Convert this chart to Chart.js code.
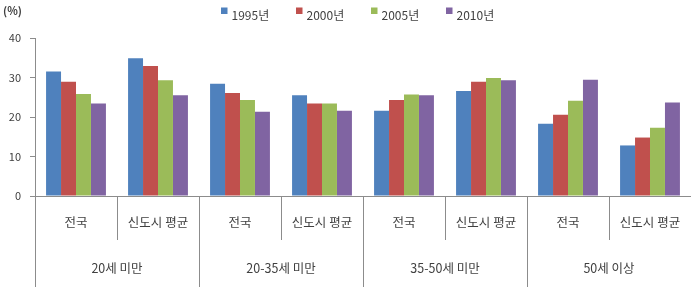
<!DOCTYPE html>
<html>
<head>
<meta charset="utf-8">
<script src="https://cdn.jsdelivr.net/npm/chart.js@4/dist/chart.umd.min.js"></script>
<style>
html,body{margin:0;padding:0;background:#fff;}
#wrap{width:691px;height:287px;position:relative;}
</style>
</head>
<body>
<div id="wrap"><canvas id="c" width="691" height="287"></canvas></div>
<script>
const groups = ['20세 미만', '20-35세 미만', '35-50세 미만', '50세 이상'];
const subs = ['전국', '신도시 평균'];
const seriesNames = ['1995년', '2000년', '2005년', '2010년'];
const v1995 = [31.5, 34.9, 28.4, 25.5, 21.6, 26.6, 18.3, 12.8];
const v2000 = [28.9, 32.9, 26.1, 23.4, 24.3, 28.9, 20.6, 14.8];
const v2005 = [25.8, 29.3, 24.3, 23.4, 25.7, 29.9, 24.1, 17.3];
const v2010 = [23.4, 25.5, 21.3, 21.6, 25.5, 29.3, 29.4, 23.7];
const yMin = 0, yMax = 40, yStep = 10;
const unitLabel = '(%)';

const colors = ['#4F81BD', '#C0504D', '#9BBB59', '#8064A2'];
const seriesValues = [v1995, v2000, v2005, v2010];
const categories = [];
groups.forEach(g => subs.forEach(s => categories.push(s)));

const FONT = "'Noto Sans CJK KR', 'Noto Sans', sans-serif";
const TXT = '#404040';
const LINE = '#8c8c8c';

const decor = {
  id: 'decor',
  afterDraw(chart) {
    const ctx = chart.ctx;
    const ca = chart.chartArea;
    const xs = chart.scales.x;
    const H = chart.height;
    ctx.save();
    ctx.strokeStyle = LINE;
    ctx.lineWidth = 1;
    // x axis baseline
    const by = Math.round(ca.bottom) + 0.5;
    ctx.beginPath();
    ctx.moveTo(ca.left, by); ctx.lineTo(ca.right, by);
    // left axis extension down
    const lx = Math.round(ca.left) + 0.5;
    ctx.moveTo(lx, ca.bottom); ctx.lineTo(lx, H);
    // separators
    for (let i = 1; i < categories.length; i++) {
      const bx = Math.round((xs.getPixelForValue(i - 1) + xs.getPixelForValue(i)) / 2) + 0.5;
      ctx.moveTo(bx, ca.bottom);
      ctx.lineTo(bx, i % subs.length === 0 ? H : ca.bottom + 44);
    }
    ctx.stroke();
    // sub labels
    ctx.fillStyle = TXT;
    ctx.textAlign = 'center';
    ctx.textBaseline = 'middle';
    ctx.font = '12.5px ' + FONT;
    categories.forEach((s, i) => {
      ctx.fillText(s, xs.getPixelForValue(i), ca.bottom + 26);
    });
    // group labels
    groups.forEach((g, gi) => {
      const a = xs.getPixelForValue(gi * subs.length);
      const b = xs.getPixelForValue(gi * subs.length + subs.length - 1);
      ctx.fillText(g, (a + b) / 2, ca.bottom + 72);
    });
    // unit label
    ctx.textAlign = 'left';
    ctx.font = 'bold 11px ' + FONT;
    ctx.fillText(unitLabel, 3, 11);
    // legend
    ctx.font = '12px ' + FONT;
    let x = 221;
    chart.data.datasets.forEach((ds, i) => {
      ctx.fillStyle = ds.backgroundColor;
      ctx.fillRect(x, 7.5, 6.5, 6.5);
      ctx.fillStyle = TXT;
      ctx.textBaseline = 'middle';
      ctx.fillText(ds.label, x + 10.5, 15);
      x += 75;
    });
    ctx.restore();
  }
};

new Chart(document.getElementById('c'), {
  type: 'bar',
  data: {
    labels: categories,
    datasets: seriesNames.map((n, i) => ({
      label: n,
      data: seriesValues[i],
      backgroundColor: colors[i],
      borderWidth: 0,
      categoryPercentage: 0.73,
      barPercentage: 1.0
    }))
  },
  options: {
    responsive: false,
    animation: false,
    devicePixelRatio: 1,
    layout: { padding: { top: 38, bottom: 91, left: 0, right: 0 } },
    plugins: { legend: { display: false }, tooltip: { enabled: false } },
    scales: {
      x: { display: false, offset: true },
      y: {
        min: yMin, max: yMax,
        afterFit(s) { s.width = 35; },
        ticks: { stepSize: yStep, color: TXT, font: { family: FONT, size: 11 }, padding: 9 },
        grid: { drawOnChartArea: false, drawTicks: true, tickLength: 5, color: LINE },
        border: { display: true, color: LINE }
      }
    }
  },
  plugins: [decor]
});
</script>
</body>
</html>
